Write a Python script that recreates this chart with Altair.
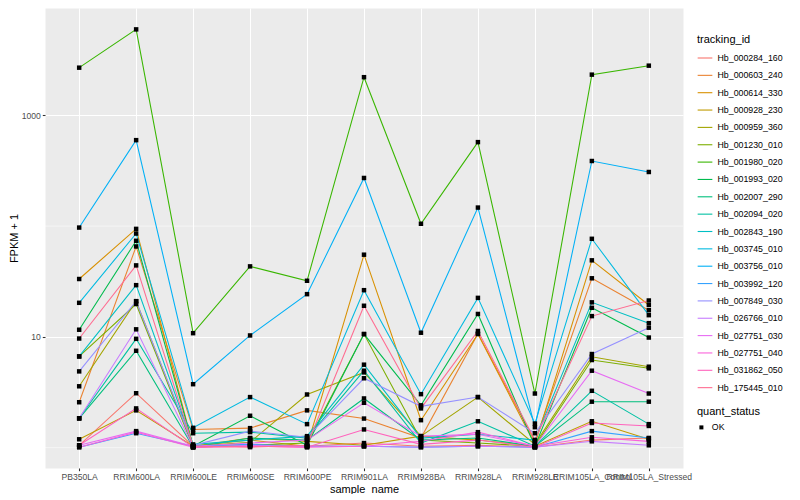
import altair as alt
import pandas as pd

samples = ["PB350LA", "RRIM600LA", "RRIM600LE", "RRIM600SE", "RRIM600PE", "RRIM901LA",
           "RRIM928BA", "RRIM928LA", "RRIM928LE", "RRIM105LA_Control", "RRIM105LA_Stressed"]

tracking_ids = ["Hb_000284_160", "Hb_000603_240", "Hb_000614_330", "Hb_000928_230", "Hb_000959_360",
                "Hb_001230_010", "Hb_001980_020", "Hb_001993_020", "Hb_002007_290", "Hb_002094_020",
                "Hb_002843_190", "Hb_003745_010", "Hb_003756_010", "Hb_003992_120", "Hb_007849_030",
                "Hb_026766_010", "Hb_027751_030", "Hb_027751_040", "Hb_031862_050", "Hb_175445_010"]

palette = ["#F8766D", "#EA8331", "#D89000", "#C09B00", "#A3A500", "#7CAE00", "#39B600", "#00BB4E",
           "#00BF7D", "#00C1A3", "#00BFC4", "#00BAE0", "#00B0F6", "#35A2FF", "#9590FF", "#C77CFF",
           "#E76BF3", "#FA62DB", "#FF62BC", "#FF6C91"]

# FPKM + 1 per sample (order of `samples`)
hb_000284_160 = [1.05, 3.1, 1.03, 1.07, 1.03, 1.10, 1.03, 1.05, 1.01, 1.17, 1.22]
hb_000603_240 = [2.57, 65.5, 1.46, 1.50, 2.17, 1.83, 1.22, 10.7, 1.14, 33.8, 17.4]
hb_000614_330 = [33.3, 94.4, 1.03, 1.17, 1.03, 55.2, 1.77, 10.6, 1.07, 49.1, 19.4]
hb_000928_230 = [1.19, 2.17, 1.03, 1.22, 1.14, 1.05, 1.27, 1.17, 1.03, 1.73, 1.19]
hb_000959_360 = [3.58, 21.0, 1.03, 1.12, 3.02, 4.78, 1.27, 2.86, 1.07, 6.62, 5.38]
hb_001230_010 = [6.66, 19.8, 1.01, 1.05, 1.10, 10.6, 1.17, 1.10, 1.03, 6.18, 5.2]
hb_001980_020 = [2693, 5970, 10.8, 43.3, 32.1, 2210, 105, 573, 3.08, 2330, 2808]
hb_001993_020 = [11.6, 73.7, 1.03, 1.94, 1.05, 10.6, 2.41, 16.1, 1.03, 18.3, 9.86]
hb_002007_290 = [1.84, 7.49, 1.01, 1.22, 1.17, 2.78, 1.17, 1.22, 1.03, 2.6, 2.6]
hb_002094_020 = [1.84, 9.6, 1.35, 1.38, 1.22, 4.95, 1.10, 1.73, 1.03, 3.26, 1.63]
hb_002843_190 = [6.66, 29.3, 1.07, 1.17, 1.27, 5.61, 1.22, 1.32, 1.17, 20.5, 13.3]
hb_003745_010 = [20.3, 85.7, 1.51, 2.86, 1.63, 26.4, 3.04, 22.5, 1.65, 76.8, 15.7]
hb_003756_010 = [97, 597, 3.74, 10.3, 24.3, 272, 10.9, 147, 1.53, 387, 308]
hb_003992_120 = [1.01, 1.35, 1.03, 1.07, 1.03, 1.03, 1.01, 1.03, 1.01, 1.41, 1.22]
hb_007849_030 = [4.88, 21.0, 1.05, 1.41, 1.24, 4.23, 2.36, 2.86, 1.35, 7.0, 12.1]
hb_026766_010 = [1.84, 11.7, 1.01, 1.05, 1.03, 1.03, 1.01, 1.03, 1.01, 1.14, 1.05]
hb_027751_030 = [1.05, 1.41, 1.03, 1.10, 1.17, 2.54, 1.27, 1.32, 1.03, 4.95, 3.08]
hb_027751_040 = [1.01, 1.38, 1.01, 1.03, 1.01, 1.03, 1.14, 1.38, 1.03, 1.24, 1.14]
hb_031862_050 = [1.05, 2.26, 1.01, 1.03, 1.01, 1.46, 1.07, 1.17, 1.01, 1.67, 1.57]
hb_175445_010 = [9.66, 44.2, 1.03, 1.01, 1.05, 19.1, 2.26, 11.3, 1.17, 15.4, 21.3]

series = [hb_000284_160, hb_000603_240, hb_000614_330, hb_000928_230, hb_000959_360,
          hb_001230_010, hb_001980_020, hb_001993_020, hb_002007_290, hb_002094_020,
          hb_002843_190, hb_003745_010, hb_003756_010, hb_003992_120, hb_007849_030,
          hb_026766_010, hb_027751_030, hb_027751_040, hb_031862_050, hb_175445_010]

y_major = [10, 1000]
y_minor = [1, 100]

rows = []
for tid, vals in zip(tracking_ids, series):
    for s, v in zip(samples, vals):
        rows.append({"tracking_id": tid, "sample_name": s, "fpkm_plus_1": v, "quant_status": "OK"})
df = pd.DataFrame(rows)
grid_df = pd.DataFrame({"fpkm_plus_1": y_minor})

FONT = "Liberation Sans"

y_scale = alt.Scale(type="log", domain=[0.655, 9311], nice=False)
x_enc = alt.X("sample_name:N", sort=samples, scale=alt.Scale(type="point", padding=0.6),
              axis=alt.Axis(title="sample_name", labelAngle=0, labelOverlap=False, labelFlush=False,
                            labelBound=False))
y_enc = alt.Y("fpkm_plus_1:Q", scale=y_scale,
              axis=alt.Axis(title="FPKM + 1", values=y_major, format="d"))

minor = alt.Chart(grid_df).mark_rule(color="white", strokeWidth=0.55).encode(y=y_enc)

lines = alt.Chart(df).mark_line(strokeWidth=1.07).encode(
    x=x_enc, y=y_enc,
    color=alt.Color("tracking_id:N", scale=alt.Scale(domain=tracking_ids, range=palette),
                    legend=alt.Legend(title="tracking_id", orient="none", legendX=652, legendY=26,
                                      symbolType="stroke", symbolSize=216, symbolStrokeWidth=1.1,
                                      rowPadding=4.35, labelOffset=4.5, titlePadding=5)),
    detail="tracking_id:N",
)

points = alt.Chart(df).mark_point(filled=True, size=20, opacity=1).encode(
    x=x_enc, y=y_enc,
    color=alt.value("black"),
    shape=alt.Shape("quant_status:N", scale=alt.Scale(domain=["OK"], range=["square"]),
                    legend=alt.Legend(title="quant_status", orient="none", legendX=652, legendY=398,
                                      symbolFillColor="black", symbolStrokeColor="black",
                                      symbolSize=16, labelOffset=6, titlePadding=6)),
)

chart = alt.layer(minor, lines, points).properties(
    width=638, height=460,
    autosize=alt.AutoSizeParams(type="none"),
    padding={"left": 37, "top": 0, "right": 109, "bottom": 26},
    background="white",
).configure_view(fill="#EBEBEB", stroke="transparent").configure_axis(
    domain=False, grid=True, gridColor="white", gridWidth=1.07,
    tickColor="#333333", tickSize=2.7, tickWidth=1.07,
    labelColor="#4D4D4D", labelFont=FONT, labelFontSize=8.6, labelPadding=2,
    titleFont=FONT, titleFontSize=11, titleFontWeight="normal", titleColor="black",
).configure_axisX(titlePadding=2).configure_axisY(titlePadding=2).configure_legend(
    labelFont=FONT, labelFontSize=8.8, labelColor="black",
    titleFont=FONT, titleFontSize=11, titleFontWeight="normal", titleColor="black",
)

chart.save("out.html", embed_options={"renderer": "svg", "actions": False})
